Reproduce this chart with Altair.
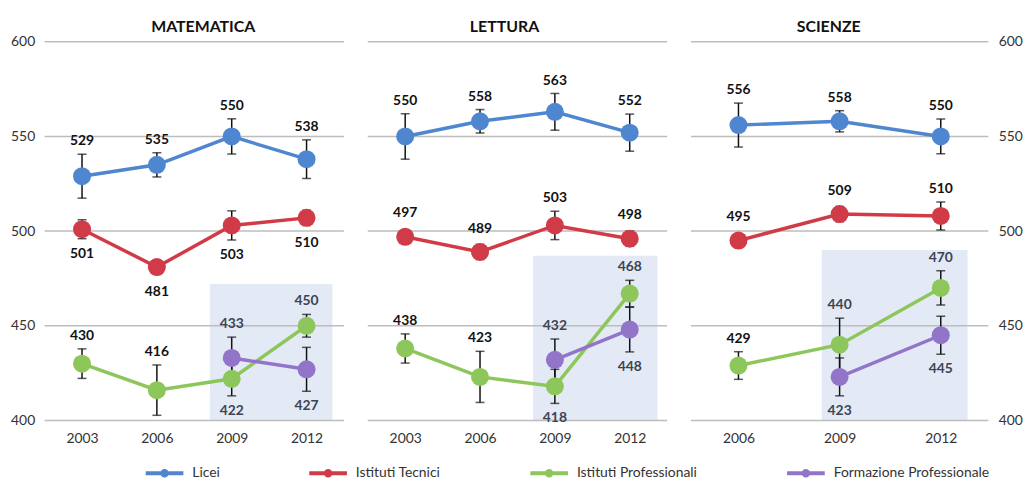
import altair as alt
import pandas as pd

# ---------------- data ----------------
series_names = ["Licei", "Istituti Tecnici", "Istituti Professionali", "Formazione Professionale"]
series_colors = ["#4f86d0", "#d13b47", "#8dc65a", "#9274c9"]

subjects = ["MATEMATICA", "LETTURA", "SCIENZE"]

mat_years = ["2003", "2006", "2009", "2012"]
mat_licei = [529, 535, 550, 538]
mat_licei_err = [11.6, 6.4, 9.3, 10.2]
mat_tecnici = [501, 481, 503, 507]
mat_tecnici_lbl = [501, 481, 503, 510]
mat_tecnici_err = [5, 3, 7.7, 4]
mat_prof = [430, 416, 422, 450]
mat_prof_err = [7.8, 13.3, 9, 6]
mat_form = [None, None, 433, 427]
mat_form_err = [None, None, 11, 11.6]

let_years = ["2003", "2006", "2009", "2012"]
let_licei = [550, 558, 563, 552]
let_licei_err = [12, 6.2, 9.7, 9.8]
let_tecnici = [497, 489, 503, 496]
let_tecnici_lbl = [497, 489, 503, 498]
let_tecnici_err = [3, 4, 7.5, 4]
let_prof = [438, 423, 418, 467]
let_prof_lbl = [438, 423, 418, 468]
let_prof_err = [7.7, 13.5, 9, 7]
let_form = [None, None, 432, 448]
let_form_err = [None, None, 11, 11.8]

sci_years = ["2006", "2009", "2012"]
sci_licei = [556, 558, 550]
sci_licei_err = [11.6, 5.6, 9.2]
sci_tecnici = [495, 509, 508]
sci_tecnici_lbl = [495, 509, 510]
sci_tecnici_err = [3, 4, 7.4]
sci_prof = [429, 440, 470]
sci_prof_err = [7.3, 14, 9]
sci_form = [None, 423, 445]
sci_form_err = [None, 10, 10]

# shaded 2009-2012 band: top value per subject
band_top = {"MATEMATICA": 472, "LETTURA": 487, "SCIENZE": 490}
y_ticks = [400, 450, 500, 550, 600]

# label placement (style): above / below the point
placement = {
    "MATEMATICA": {"Licei": ["a", "a", "a", "a"], "Istituti Tecnici": ["b", "b", "b", "b"],
                   "Istituti Professionali": ["a", "a", "b", "a"], "Formazione Professionale": [None, None, "a", "b"]},
    "LETTURA": {"Licei": ["a", "a", "a", "a"], "Istituti Tecnici": ["a", "a", "a", "a"],
                "Istituti Professionali": ["a", "a", "b", "a"], "Formazione Professionale": [None, None, "a", "b"]},
    "SCIENZE": {"Licei": ["a", "a", "a"], "Istituti Tecnici": ["a", "a", "a"],
                "Istituti Professionali": ["a", "a", "a"], "Formazione Professionale": [None, "b", "b"]},
}

table = {
    "MATEMATICA": (mat_years, [(mat_licei, mat_licei, mat_licei_err), (mat_tecnici, mat_tecnici_lbl, mat_tecnici_err),
                               (mat_prof, mat_prof, mat_prof_err), (mat_form, mat_form, mat_form_err)]),
    "LETTURA": (let_years, [(let_licei, let_licei, let_licei_err), (let_tecnici, let_tecnici_lbl, let_tecnici_err),
                            (let_prof, let_prof_lbl, let_prof_err), (let_form, let_form, let_form_err)]),
    "SCIENZE": (sci_years, [(sci_licei, sci_licei, sci_licei_err), (sci_tecnici, sci_tecnici_lbl, sci_tecnici_err),
                            (sci_prof, sci_prof, sci_prof_err), (sci_form, sci_form, sci_form_err)]),
}

rows = []
for subj, (years, series) in table.items():
    for si, (vals, lbls, errs) in enumerate(series):
        name = series_names[si]
        for i, y in enumerate(years):
            v = vals[i]
            if v is None:
                continue
            e = errs[i]
            off = max(e, 5.5)
            rows.append(dict(subject=subj, series=name, order=si, year=y, value=v, label=str(lbls[i]),
                             lo=v - e, hi=v + e, ya=v + off, yb=v - off,
                             pos=placement[subj][name][i],
                             lcol="#3c4454" if (si >= 2 and y in ("2009", "2012")) else "#111111"))
df = pd.DataFrame(rows)

FONT = "Lato"
color_scale = alt.Scale(domain=series_names, range=series_colors)
legend_path = "M-1,0L1,0M0.12,0A0.12,0.12 0 1,1 -0.12,0A0.12,0.12 0 1,1 0.12,0Z"


def panel(subj, years, width, pad, orient, show_labels, dx, toff, band_off):
    d = df[df.subject == subj]
    xs = alt.Scale(type="point", padding=pad, domain=years)
    xax = alt.Axis(title=None, labelAngle=0, ticks=False, domain=False, grid=False,
                   labelPadding=11, labelFontSize=14, labelFont=FONT, labelColor="#333333")
    ys = alt.Scale(domain=[400, 600], nice=False, zero=False)
    yax = alt.Axis(title=None, values=y_ticks, grid=False, ticks=False, domain=False, orient=orient,
                   labels=show_labels, labelPadding=10, labelFontSize=14, labelFont=FONT,
                   labelColor="#333333")

    X = alt.X("year:N", scale=xs, axis=xax)

    band = alt.Chart(pd.DataFrame({"x1": ["2009"], "x2": ["2012"], "lo": [400], "hi": [band_top[subj]]})).mark_rect(
        color="#e3eaf5", xOffset=band_off[0], x2Offset=band_off[1]
    ).encode(
        x=alt.X("x1:N", scale=xs, axis=xax), x2="x2:N",
        y=alt.Y("lo:Q", scale=ys, axis=yax), y2="hi:Q",
    )

    grid = alt.Chart(pd.DataFrame({"t": y_ticks})).mark_rule(color="#bdbdbd", strokeWidth=1.5).encode(
        y=alt.Y("t:Q", scale=ys, axis=yax), x=alt.value(0), x2=alt.value(width)
    )

    base = alt.Chart(d)
    err = base.transform_filter("datum.hi > datum.lo")
    rule = err.mark_rule(color="#111111", strokeWidth=1.5).encode(
        x=X, y=alt.Y("lo:Q", scale=ys, axis=yax), y2="hi:Q")
    cap_lo = err.mark_tick(color="#111111", size=9, thickness=1.5).encode(
        x=X, y=alt.Y("lo:Q", scale=ys, axis=yax))
    cap_hi = err.mark_tick(color="#111111", size=9, thickness=1.5).encode(
        x=X, y=alt.Y("hi:Q", scale=ys, axis=yax))

    line = base.mark_line(strokeWidth=3.5).encode(
        x=X, y=alt.Y("value:Q", scale=ys, axis=yax),
        color=alt.Color("series:N", scale=color_scale, sort=series_names,
                        legend=alt.Legend(title=None, orient="none", direction="horizontal",
                                          legendX=100, legendY=414, padding=0,
                                          symbolType=legend_path, symbolSize=1444, symbolStrokeWidth=4,
                                          labelFont=FONT, labelFontSize=14, labelColor="#333333",
                                          labelOffset=7, labelLimit=400, columnPadding=82)),
        detail="series:N",
        order="order:Q",
    )
    pts = base.mark_circle(size=330, opacity=1).encode(
        x=X, y=alt.Y("value:Q", scale=ys, axis=yax),
        fill=alt.Fill("series:N", scale=color_scale, legend=None),
        order="order:Q",
    )
    txt_a = base.transform_filter("datum.pos == 'a'").mark_text(
        font=FONT, fontSize=14, fontWeight="bold", baseline="bottom", dy=-6
    ).encode(x=X, y=alt.Y("ya:Q", scale=ys, axis=yax), text="label:N", color=alt.Color("lcol:N", scale=None))
    txt_b = base.transform_filter("datum.pos == 'b'").mark_text(
        font=FONT, fontSize=14, fontWeight="bold", baseline="top", dy=8
    ).encode(x=X, y=alt.Y("yb:Q", scale=ys, axis=yax), text="label:N", color=alt.Color("lcol:N", scale=None))

    return alt.layer(band, grid, rule, cap_lo, cap_hi, line, pts, txt_a, txt_b).properties(
        width=width, height=382,
        title=alt.TitleParams(subj, font=FONT, fontSize=16, fontWeight="bold", color="#111111",
                              offset=toff, dx=dx, anchor="middle"),
    )


p1 = panel("MATEMATICA", mat_years, 302, 0.5, "left", True, 9, 0, (-22, 26))
p2 = panel("LETTURA", let_years, 302, 0.5, "left", False, -13, 6, (-22, 28))
p3 = panel("SCIENZE", sci_years, 300, 0.47, "right", True, -11, 0, (-18, 27))

chart = alt.hconcat(p1, p2, p3, spacing=22).properties(
    padding={"left": 10, "top": 17, "right": 0, "bottom": 0},
    background="white",
).configure_view(stroke=None)

chart.save("out.html", embed_options={"renderer": "svg", "actions": False})
